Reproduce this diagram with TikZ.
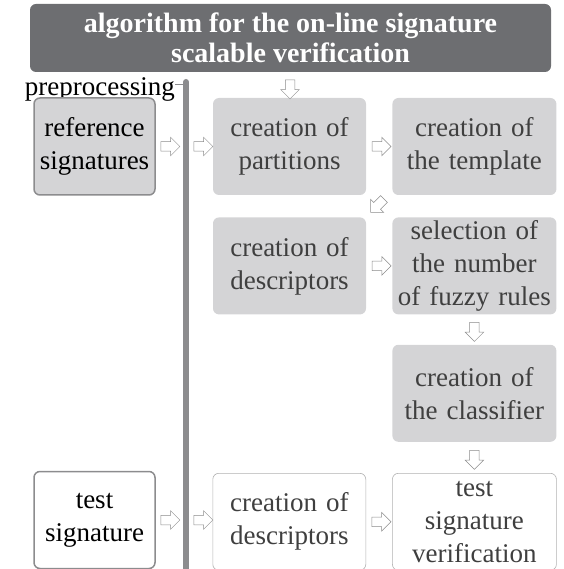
\documentclass[tikz,border=0pt]{standalone}
\usepackage{fontspec}
\setmainfont{Liberation Serif}
\usepackage{tikz}
\usetikzlibrary{positioning, shapes.arrows, calc}
\definecolor{titlegray}{HTML}{6D6E71}
\definecolor{boxgray}{HTML}{D4D4D6}
\definecolor{edgegray}{HTML}{8C8C8E}
\definecolor{inkgray}{HTML}{3F3F3F}

\begin{document}
\begin{tikzpicture}[
		x=1pt, y=1pt,
		node distance=22pt and 26pt,
		every node/.style={font=\fontsize{27}{33}\selectfont},
		stage/.style={rounded corners=6pt, fill=boxgray, text=inkgray, minimum width=153pt, minimum height=97pt, text width=150pt, align=center, inner sep=0pt},
		wide/.style={minimum width=164pt, text width=162pt},
		input/.style={stage, draw=edgegray, line width=1.5pt, text=black, minimum width=121pt, text width=118pt},
		plain/.style={fill=white, draw=black!30, line width=0.6pt},
		hollow/.style={single arrow, draw=black!45, fill=white, line width=0.5pt, inner xsep=0pt, inner ysep=4.5pt, minimum height=19pt, single arrow head extend=4.5pt, font=\tiny}
	]
	\useasboundingbox (0,0) rectangle (563,-569);
	\node[fill=titlegray, rounded corners=6pt, minimum width=521pt, minimum height=68pt, text=white, align=center, font=\fontsize{28}{30}\selectfont\bfseries] (title) at (290.5,-38) {algorithm for the on-line signature\\scalable verification};

	% preprocessing bar
	\coordinate (bartop) at (186,-82);
	\coordinate (barbot) at (186,-569);
	\draw[line width=6pt, edgegray, line cap=round] (bartop) -- (barbot);
	\node[anchor=base east, inner sep=0pt] (pre) at (175,-96) {preprocessing};
	\coordinate (tick) at (183,-85);
	\draw[edgegray, line width=1pt] (tick -| pre.east) -- (tick);

	\node[input] (refsig) at (94.5,-146.5) {reference\\signatures};
	\node[stage] (part) at (289.5,-146.5) {creation of\\partitions};
	\node[stage, wide, right=26pt of part] (templ) {creation of\\the template};
	\node[stage, below=22pt of part] (desc) {creation of\\descriptors};
	\node[stage, wide, below=22pt of templ] (fuzzy) {selection of\\the number\\of fuzzy rules};
	\node[stage, wide, below=30pt of fuzzy] (clf) {creation of\\the classifier};
	\node[stage, wide, plain, below=31pt of clf] (verif) {test\\signature\\verification};
	\node[stage, plain, left=26pt of verif] (tdesc) {creation of\\descriptors};
	\node[input, fill=white] (testsig) at (94.5,-520) {test\\signature};

	% hollow arrows
	\node[hollow, rotate=-90] (a0) at (290,-87) {};
	\node[hollow] (a1) at (168,-146.5) {};
	\node[hollow] (a2) at (201,-146.5) {};
	\node[hollow] (a3) at ($(part.east)!0.5!(templ.west)$) {};
	\node[hollow, rotate=225] (a4) at (379,-204) {};
	\node[hollow] (a5) at ($(desc.east)!0.5!(fuzzy.west)$) {};
	\node[hollow, rotate=-90] (a6) at ($(fuzzy.south)!0.5!(clf.north)$) {};
	\node[hollow, rotate=-90] (a7) at ($(clf.south)!0.5!(verif.north)$) {};
	\node[hollow] (a8) at (168,-520) {};
	\node[hollow] (a9) at (201,-520) {};
	\node[hollow] (a10) at ($(tdesc.east)!0.5!(verif.west)$) {};
\end{tikzpicture}
\end{document}
